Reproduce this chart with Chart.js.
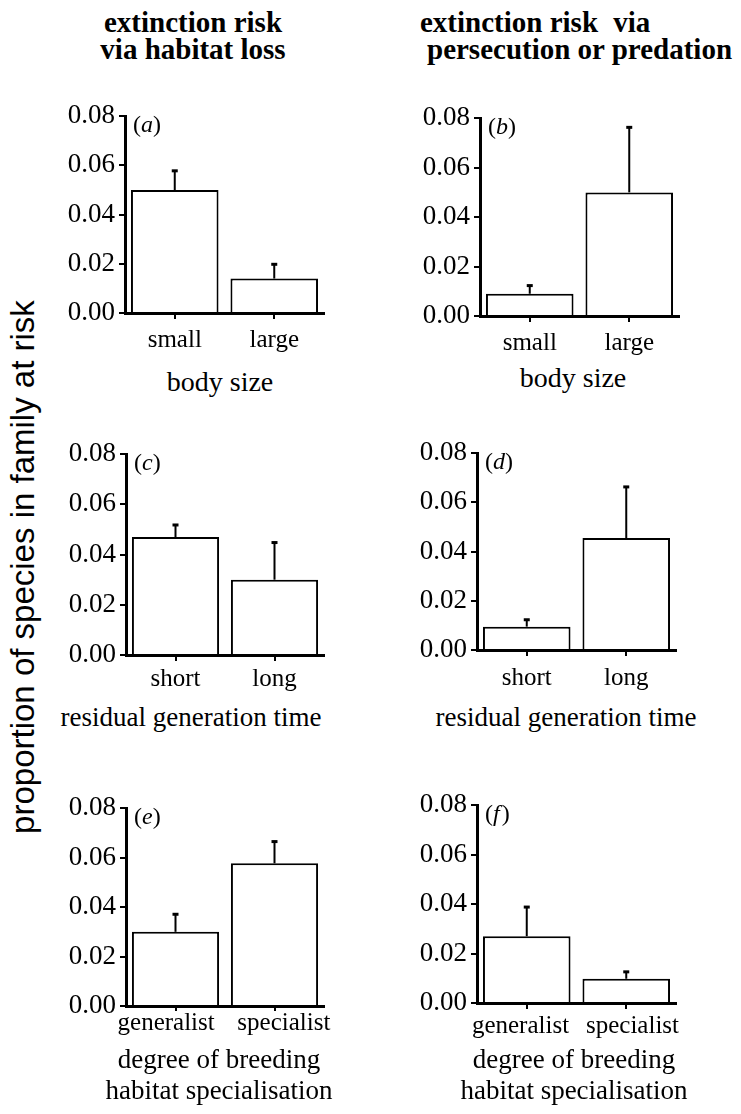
<!DOCTYPE html>
<html>
<head>
<meta charset="utf-8">
<script src="https://cdn.jsdelivr.net/npm/chart.js@4.4.1/dist/chart.umd.min.js"></script>
<style>
  body { margin: 0; background: #fff; }
  #page { position: relative; width: 741px; height: 1114px; overflow: hidden; }
  canvas { position: absolute; }
  .txt { position: absolute; font-family: "Liberation Serif", "Times New Roman", serif; color: #000; white-space: nowrap; }
  .head { font-weight: bold; font-size: 29px; line-height: 27px; }
  .xt { font-size: 27px; line-height: 31px; width: 400px; text-align: center; }
  #ylab { position: absolute; left: -277px; top: 547px; width: 600px; height: 40px; line-height: 40px;
          text-align: center; font-family: "Liberation Sans", Arial, sans-serif; font-size: 33px;
          transform: rotate(-90deg); white-space: nowrap; }
</style>
</head>
<body>
<div id="page">
  <div class="txt head" style="left:-7px; top:9px; width:400px; text-align:center;">extinction risk<br>via habitat loss</div>
  <div class="txt head" style="left:420px; top:9px;">extinction risk <span style="margin-left:8px">via</span></div>
  <div class="txt head" style="left:427px; top:36px;">persecution or predation</div>
  <div id="ylab">proportion of species in family at risk</div>

  <canvas id="chartA" width="280" height="262" style="left:60px; top:96px;"></canvas>
  <canvas id="chartB" width="280" height="263" style="left:415px; top:98px;"></canvas>
  <canvas id="chartC" width="280" height="266" style="left:61px; top:434px;"></canvas>
  <canvas id="chartD" width="280" height="262" style="left:412px; top:433px;"></canvas>
  <canvas id="chartE" width="280" height="263" style="left:61px; top:788px;"></canvas>
  <canvas id="chartF" width="280" height="263" style="left:412px; top:785px;"></canvas>

  <div class="txt xt" style="left:20px; top:366px; font-size:28px;">body size</div>
  <div class="txt xt" style="left:373px; top:362px; font-size:28px;">body size</div>
  <div class="txt xt" style="left:-9px; top:702px;">residual generation time</div>
  <div class="txt xt" style="left:366px; top:702px;">residual generation time</div>
  <div class="txt xt" style="left:19px; top:1044px;">degree of breeding<br>habitat specialisation</div>
  <div class="txt xt" style="left:374px; top:1044px;">degree of breeding<br>habitat specialisation</div>
</div>

<script>
// categories
const sizeLabels = ['small', 'large'];
const genLabels = ['short', 'long'];
const habLabels = ['generalist', 'specialist'];

// y axis ticks (shared)
const yTicks = [0, 0.02, 0.04, 0.06, 0.08];

// (a) habitat loss ~ body size
const habitatSizeMean = [0.050, 0.014];
const habitatSizeErr = [0.008, 0.006];
// (b) persecution ~ body size
const persecSizeMean = [0.009, 0.050];
const persecSizeErr = [0.0035, 0.0265];
// (c) habitat loss ~ generation time
const habitatGenMean = [0.047, 0.030];
const habitatGenErr = [0.005, 0.015];
// (d) persecution ~ generation time
const persecGenMean = [0.0095, 0.0455];
const persecGenErr = [0.003, 0.021];
// (e) habitat loss ~ breeding habitat
const habitatSpecMean = [0.030, 0.0577];
const habitatSpecErr = [0.0073, 0.009];
// (f) persecution ~ breeding habitat
const persecSpecMean = [0.027, 0.0098];
const persecSpecErr = [0.012, 0.003];

const serif = '"Liberation Serif", "Times New Roman", serif';

// draws the upper error bar on each bar
const errorBars = {
    id: 'errorBars',
    afterDatasetsDraw(chart) {
        const ctx = chart.ctx;
        const ds = chart.data.datasets[0];
        const y = chart.scales.y;
        ctx.save();
        ctx.strokeStyle = '#000';
        chart.getDatasetMeta(0).data.forEach((bar, i) => {
            const top = y.getPixelForValue(ds.data[i] + ds.errors[i]);
            ctx.lineWidth = 2;
            ctx.beginPath();
            ctx.moveTo(bar.x, bar.y);
            ctx.lineTo(bar.x, top);
            ctx.stroke();
            ctx.lineWidth = 3;
            ctx.beginPath();
            ctx.moveTo(bar.x - 3, top + 0.5);
            ctx.lineTo(bar.x + 3, top + 0.5);
            ctx.stroke();
        });
        ctx.restore();
    }
};

// "(a)" style panel tag, letter in italics
const panelTag = {
    id: 'panelTag',
    afterDraw(chart, args, opts) {
        const ctx = chart.ctx;
        const area = chart.chartArea;
        let x = area.left + 8;
        const base = area.top + 16;
        ctx.save();
        ctx.fillStyle = '#000';
        ctx.textBaseline = 'alphabetic';
        ctx.font = '24px ' + serif;
        ctx.fillText('(', x, base);
        x += ctx.measureText('(').width;
        ctx.font = 'italic 24px ' + serif;
        ctx.fillText(opts.letter, x, base);
        x += ctx.measureText(opts.letter).width + (opts.letter === 'f' ? 2 : 0);
        ctx.font = '24px ' + serif;
        ctx.fillText(')', x, base);
        ctx.restore();
    }
};

function makePanel(id, letter, labels, means, errs, plotH, padRight, xPad, tickLen, spread) {
    const ctx = document.getElementById(id).getContext('2d');
    // long labels sit a little apart from the bar centres in the original
    const pad = ' '.repeat(spread);
    return new Chart(ctx, {
        type: 'bar',
        data: {
            labels: labels,
            datasets: [{
                data: means,
                errors: errs,
                backgroundColor: '#fff',
                borderColor: '#000',
                borderWidth: 2,
                borderSkipped: 'bottom',
                categoryPercentage: 1,
                barPercentage: 0.88
            }]
        },
        options: {
            responsive: false,
            animation: false,
            devicePixelRatio: 1,
            layout: { padding: { top: 20, right: padRight, left: 0, bottom: 0 } },
            scales: {
                x: {
                    offset: true,
                    grid: { offset: false, drawOnChartArea: false, drawTicks: true, tickLength: tickLen, color: '#000', lineWidth: 2 },
                    border: { display: true, color: '#000', width: 3 },
                    ticks: {
                        color: '#000', font: { family: serif, size: 25 }, padding: xPad, maxRotation: 0, autoSkip: false,
                        callback: (v, i) => i === 0 ? labels[i] + pad : pad + labels[i]
                    },
                    afterFit: s => { s.height = 45; }
                },
                y: {
                    min: 0,
                    max: 0.08,
                    grid: { drawOnChartArea: false, drawTicks: true, tickLength: 6, color: '#000', lineWidth: 2 },
                    border: { display: true, color: '#000', width: 3 },
                    ticks: { color: '#000', font: { family: serif, size: 27 }, padding: 4, callback: v => v.toFixed(2) },
                    afterBuildTicks: s => { s.ticks = yTicks.map(v => ({ value: v })); },
                    afterFit: s => { s.width = 65; }
                }
            },
            plugins: {
                legend: { display: false },
                tooltip: { enabled: false },
                panelTag: { letter: letter }
            }
        },
        plugins: [errorBars, panelTag]
    });
}

makePanel('chartA', 'a', sizeLabels, habitatSizeMean, habitatSizeErr, 197, 16, 6.6, 6, 0);
makePanel('chartB', 'b', sizeLabels, persecSizeMean, persecSizeErr, 198, 16, 6.3, 6, 0);
makePanel('chartC', 'c', genLabels, habitatGenMean, habitatGenErr, 201, 17, 3.6, 6, 0);
makePanel('chartD', 'd', genLabels, persecGenMean, persecGenErr, 197, 16, 7.3, 6, 0);
makePanel('chartE', 'e', habLabels, habitatSpecMean, habitatSpecErr, 198, 17, -2.7, 5, 3);
makePanel('chartF', 'f', habLabels, persecSpecMean, persecSpecErr, 198, 16, 2.6, 6, 2);
</script>
</body>
</html>
